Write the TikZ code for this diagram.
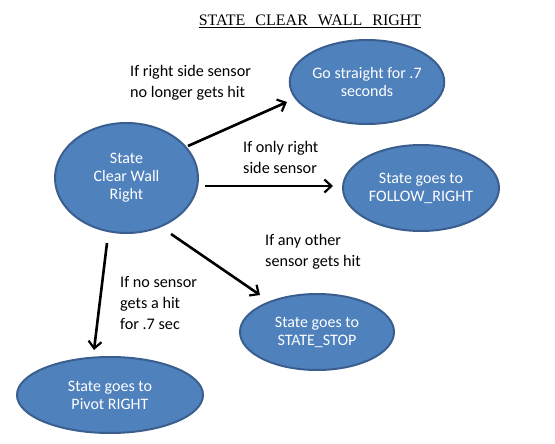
\documentclass[tikz,border=0pt]{standalone}
\usepackage{fontspec}
\setmainfont{Carlito}
\newfontfamily\titlefont{Liberation Serif}
\usetikzlibrary{arrows.meta,shapes.geometric}
\definecolor{stfill}{HTML}{4F81BD}
\definecolor{stdraw}{HTML}{3A5F8E}
\tikzset{
  stnode/.style={ellipse,fill=stfill,draw=stdraw,line width=2pt,text=white,align=center,
    font=\fontsize{16}{18}\selectfont,inner sep=0pt},
  conn/.style={line width=2.6pt,-{Straight Barb[length=7pt,width=13pt,line width=2.2pt]}},
  lbl/.style={align=left,anchor=north west,inner sep=0pt,font=\fontsize{16.2}{21}\selectfont}
}
\begin{document}
\begin{tikzpicture}[x=1pt,y=-1pt]
\useasboundingbox (0,0) rectangle (555,444);
\node[font=\titlefont\fontsize{16}{18}\selectfont,inner sep=0pt] (title) at (310,21)
  {\underline{STATE\hspace{6pt} CLEAR\hspace{6pt} WALL\hspace{6pt} RIGHT}};
\node[stnode,minimum width=143pt,minimum height=110pt] (cwr) at (126.5,178) {State\\Clear Wall\\Right};
\node[stnode,minimum width=154pt,minimum height=84pt] (go) at (367,82) {Go straight for .7\\seconds};
\node[stnode,minimum width=156pt,minimum height=86pt] (fr) at (421,188) {State goes to\\FOLLOW\_RIGHT};
\node[stnode,minimum width=154pt,minimum height=76pt] (ss) at (317,332) {State goes to\\STATE\_STOP};
\node[stnode,minimum width=186pt,minimum height=76pt] (pr) at (110,395) {State goes to\\Pivot RIGHT};
\coordinate (a1s) at (188,146); \coordinate (a1e) at (287,102);
\coordinate (a2s) at (205,186); \coordinate (a2e) at (333,186);
\coordinate (a3s) at (171,234); \coordinate (a3e) at (260,295);
\coordinate (a4s) at (107,243); \coordinate (a4e) at (94,350);
\draw[conn] (a1s) -- (a1e);
\draw[conn] (a2s) -- (a2e);
\draw[conn] (a3s) -- (a3e);
\draw[conn] (a4s) -- (a4e);
\node[lbl] (l1) at (130,65) {If right side sensor\\no longer gets hit};
\node[lbl] (l2) at (243,141) {If only right\\side sensor};
\node[lbl] (l3) at (265,234) {If any other\\sensor gets hit};
\node[lbl] (l4) at (120,276) {If no sensor\\gets a hit\\for .7 sec};
\end{tikzpicture}
\end{document}
